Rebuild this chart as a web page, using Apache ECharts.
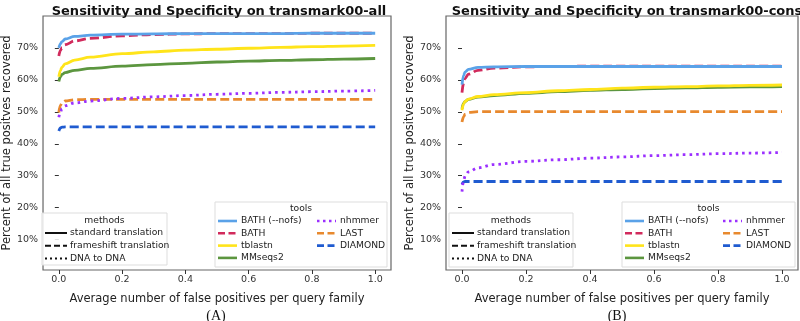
<!DOCTYPE html>
<html>
<head>
<meta charset="utf-8">
<title>Sensitivity and Specificity</title>
<script src="https://cdn.jsdelivr.net/npm/echarts@6/dist/echarts.min.js"></script>
<style>
  html, body { margin: 0; padding: 0; background: #fff; }
  #main { width: 800px; height: 321px; }
</style>
</head>
<body>
<div id="main"></div>
<script>
// x positions (average false positives per query family)
var xs = [0, 0.005, 0.01, 0.02, 0.05, 0.1, 0.2, 0.3, 0.4, 0.5, 0.6, 0.7, 0.8, 0.9, 1.0];
var xTicks = [0, 0.2, 0.4, 0.6, 0.8, 1.0];
var yTicks = [10, 20, 30, 40, 50, 60, 70];

// panel A: transmark00-all
var bathNofsA = [70.0, 71.3, 72.0, 72.8, 73.6, 74.0, 74.3, 74.4, 74.5, 74.5, 74.5, 74.5, 74.6, 74.6, 74.6];
var bathA     = [67.5, 69.2, 70.1, 71.0, 72.2, 73.0, 73.8, 74.2, 74.4, 74.5, 74.5, 74.5, 74.6, 74.6, 74.6];
var tblastnA  = [61.0, 63.0, 64.0, 65.0, 66.2, 67.1, 68.2, 68.8, 69.3, 69.6, 69.9, 70.2, 70.4, 70.6, 70.8];
var mmseqsA   = [59.5, 61.0, 61.7, 62.3, 63.0, 63.6, 64.3, 64.8, 65.2, 65.6, 65.9, 66.1, 66.3, 66.5, 66.7];
var nhmmerA   = [48.3, 50.0, 51.0, 51.9, 52.8, 53.4, 54.2, 54.7, 55.1, 55.5, 55.8, 56.1, 56.3, 56.5, 56.7];
var lastA     = [49.8, 52.0, 52.8, 53.4, 53.8, 53.9, 53.9, 53.9, 53.9, 53.9, 53.9, 53.9, 53.9, 53.9, 53.9];
var diamondA  = [44.0, 45.0, 45.2, 45.3, 45.3, 45.3, 45.3, 45.3, 45.3, 45.3, 45.3, 45.3, 45.3, 45.3, 45.3];

// panel B: transmark00-cons
var bathNofsB = [58.5, 61.5, 62.5, 63.3, 63.9, 64.1, 64.2, 64.2, 64.2, 64.2, 64.2, 64.2, 64.2, 64.2, 64.2];
var bathB     = [56.0, 59.0, 60.5, 61.8, 63.0, 63.7, 64.1, 64.2, 64.3, 64.3, 64.3, 64.3, 64.3, 64.3, 64.3];
var tblastnB  = [50.5, 52.5, 53.3, 54.0, 54.8, 55.4, 56.0, 56.6, 57.0, 57.4, 57.7, 57.9, 58.1, 58.3, 58.4];
var mmseqsB   = [51.0, 52.7, 53.3, 53.9, 54.6, 55.1, 55.8, 56.3, 56.7, 57.0, 57.3, 57.5, 57.7, 57.8, 57.9];
var nhmmerB   = [25.0, 28.5, 30.0, 31.2, 32.5, 33.5, 34.5, 35.0, 35.5, 35.9, 36.3, 36.6, 36.9, 37.1, 37.3];
var lastB     = [46.8, 48.5, 49.3, 49.8, 50.1, 50.1, 50.1, 50.1, 50.1, 50.1, 50.1, 50.1, 50.1, 50.1, 50.1];
var diamondB  = [27.3, 28.1, 28.2, 28.2, 28.2, 28.2, 28.2, 28.2, 28.2, 28.2, 28.2, 28.2, 28.2, 28.2, 28.2];

var toolNames = ['BATH (--nofs)', 'BATH', 'tblastn', 'MMseqs2', 'nhmmer', 'LAST', 'DIAMOND'];
var toolColors = ['#5aa2e8', '#d12a5c', '#ffe41a', '#5c963f', '#9b30ff', '#e8892e', '#1f5bd0'];
var toolDash = ['solid', [9, 4], 'solid', 'solid', [2.6, 4], [9, 4], [9, 4]];
var methodNames = ['standard translation', 'frameshift translation', 'DNA to DNA'];

var font = 'DejaVu Sans';
var seriesA = [bathNofsA, bathA, tblastnA, mmseqsA, nhmmerA, lastA, diamondA];
var seriesB = [bathNofsB, bathB, tblastnB, mmseqsB, nhmmerB, lastB, diamondB];

function pairs(ys) {
  return xs.map(function (x, i) { return [x, ys[i]]; });
}

function makeSeries(list, idx) {
  return list.map(function (ys, k) {
    return {
      name: toolNames[k],
      type: 'line',
      xAxisIndex: idx,
      yAxisIndex: idx,
      data: pairs(ys),
      showSymbol: false,
      smooth: 0.35,
      smoothMonotone: 'x',
      lineStyle: { color: toolColors[k], width: 2.8, type: toolDash[k], cap: 'butt' },
      z: 10 - k
    };
  });
}

function xAxis(idx) {
  return {
    type: 'value', gridIndex: idx, min: -0.05, max: 1.05,
    axisLine: { show: false }, splitLine: { show: false },
    axisTick: { show: true, length: 4, customValues: xTicks, lineStyle: { color: '#333' } },
    axisLabel: { customValues: xTicks, color: '#333', fontFamily: font, fontSize: 9.5, margin: 5,
      formatter: function (v) { return v.toFixed(1); } },
    name: 'Average number of false positives per query family',
    nameLocation: 'middle', nameGap: 23,
    nameTextStyle: { color: '#222', fontFamily: font, fontSize: 11.5 }
  };
}

function yAxis(idx) {
  return {
    type: 'value', gridIndex: idx, min: 0.5, max: 80,
    axisLine: { show: false }, splitLine: { show: false },
    axisTick: { show: true, length: 4, customValues: yTicks, lineStyle: { color: '#333' } },
    axisLabel: { customValues: yTicks, color: '#333', fontFamily: font, fontSize: 9.5, margin: 5,
      formatter: function (v) { return v + '%'; } },
    name: 'Percent of all true positves recovered',
    nameLocation: 'middle', nameGap: 29,
    nameTextStyle: { color: '#222', fontFamily: font, fontSize: 11.5 }
  };
}

// legend boxes drawn as graphics
function legendLine(x, y, w, color, dash, width) {
  return { type: 'line', shape: { x1: x, y1: y, x2: x + w, y2: y },
    style: { stroke: color, lineWidth: width, lineDash: dash === 'solid' ? null : dash } };
}
function legendText(x, y, t, align) {
  return { type: 'text', x: x, y: y,
    style: { text: t, fill: '#222', font: '9.2px ' + font, textAlign: align || 'left', textVerticalAlign: 'middle' } };
}

function legends(m, t) {
  var els = [];
  els.push({ type: 'rect', shape: { x: m.x, y: m.y, width: m.w, height: m.h },
    style: { fill: 'rgba(255,255,255,0.85)', stroke: '#ddd', lineWidth: 1 } });
  els.push(legendText(m.x + m.w / 2, m.y + 8, 'methods', 'center'));
  var mDash = ['solid', [6, 3], [2, 3]];
  methodNames.forEach(function (n, i) {
    var y = m.y + 20 + i * 12.8;
    els.push(legendLine(m.x + 3, y, 22, '#111', mDash[i], 2));
    els.push(legendText(m.x + 28, y, n));
  });
  els.push({ type: 'rect', shape: { x: t.x, y: t.y, width: t.w, height: t.h },
    style: { fill: 'rgba(255,255,255,0.85)', stroke: '#ddd', lineWidth: 1 } });
  els.push(legendText(t.x + t.w / 2, t.y + 7, 'tools', 'center'));
  toolNames.forEach(function (n, i) {
    var col = i < 4 ? 0 : 1;
    var row = i < 4 ? i : i - 4;
    var x = t.x + 3 + col * t.colGap;
    var y = t.y + 19 + row * 12.3;
    var dash = toolDash[i] === 'solid' ? 'solid' : (i === 4 ? [2.5, 3.5] : [7, 3.5]);
    els.push(legendLine(x, y, 19, toolColors[i], dash, 2.6));
    els.push(legendText(x + 23, y, n));
  });
  return els;
}

var chart = echarts.init(document.getElementById('main'));
var option = {
  animation: false,
  backgroundColor: '#fff',
  title: [
    { text: 'Sensitivity and Specificity on transmark00-all', left: 214, top: 0, textAlign: 'center',
      textStyle: { fontFamily: font, fontSize: 13, fontWeight: 'bold', color: '#111' } },
    { text: 'Sensitivity and Specificity on transmark00-cons', left: 622, top: 0, textAlign: 'center',
      textStyle: { fontFamily: font, fontSize: 13, fontWeight: 'bold', color: '#111' } },
    { text: '(A)', left: 211, top: 304, textAlign: 'center',
      textStyle: { fontFamily: 'Liberation Serif', fontSize: 14, fontWeight: 'normal', color: '#111' } },
    { text: '(B)', left: 612, top: 304, textAlign: 'center',
      textStyle: { fontFamily: 'Liberation Serif', fontSize: 14, fontWeight: 'normal', color: '#111' } }
  ],
  grid: [
    { left: 39, top: 16, width: 352, height: 254, show: true, borderColor: '#666', borderWidth: 1.2, backgroundColor: 'transparent' },
    { left: 446, top: 16, width: 352, height: 254, show: true, borderColor: '#666', borderWidth: 1.2, backgroundColor: 'transparent' }
  ],
  xAxis: [xAxis(0), xAxis(1)],
  yAxis: [yAxis(0), yAxis(1)],
  series: makeSeries(seriesA, 0).concat(makeSeries(seriesB, 1)),
  graphic: legends({ x: 42, y: 213, w: 125, h: 52 }, { x: 215, y: 202, w: 172, h: 65, colGap: 99 })
    .concat(legends({ x: 449, y: 213, w: 124, h: 54 }, { x: 622, y: 202, w: 173, h: 65, colGap: 98 }))
    .map(function (g) { g.z = 100; return g; })
};
chart.setOption(option);
</script>
</body>
</html>
